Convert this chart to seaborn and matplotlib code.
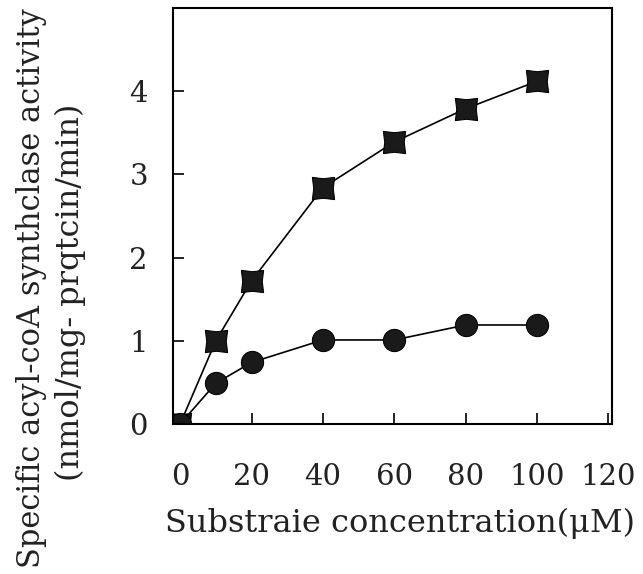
import numpy as np
import pandas as pd
import matplotlib
matplotlib.use("Agg")
import matplotlib.pyplot as plt
from matplotlib.path import Path
import seaborn as sns

# ---- data ----
concentration = [0, 10, 20, 40, 60, 80, 100]
activity_square = [0.0, 1.0, 1.72, 2.84, 3.39, 3.79, 4.12]
activity_circle = [0.0, 0.49, 0.74, 1.01, 1.01, 1.19, 1.19]
x_ticks = [0, 20, 40, 60, 80, 100, 120]
y_ticks = [0, 1, 2, 3, 4]
x_label = "Substraie concentration(\u03bcM)"
y_label_1 = "Specific acyl-coA synthclase activity"
y_label_2 = "(nmol/mg- prqtcin/min)"

df = pd.DataFrame({
    "conc": concentration * 2,
    "act": activity_square + activity_circle,
    "series": ["square"] * len(concentration) + ["circle"] * len(concentration),
})

sns.set_theme(style="white")
plt.rcParams["font.family"] = ["DejaVu Serif"]

# square with slightly concave sides
c = 0.88
verts = [(-1, -1), (0, -c), (1, -1), (c, 0), (1, 1), (0, c), (-1, 1), (-c, 0), (-1, -1)]
codes = [Path.MOVETO] + [Path.LINETO] * 7 + [Path.CLOSEPOLY]
sq_marker = Path(verts, codes)

fig = plt.figure(figsize=(6.43, 5.74), dpi=100)
ax = fig.add_axes([173 / 643, 1 - 424 / 574, (612 - 173) / 643, (424 - 8) / 574])

sns.lineplot(data=df, x="conc", y="act", style="series",
             markers={"square": sq_marker, "circle": "o"}, dashes=False,
             color="black", linewidth=1.2, markersize=16,
             markeredgecolor="black", markerfacecolor="#1a1a1a",
             legend=False, ax=ax, sort=False)

ax.set_xlim(-2, 121)
ax.set_ylim(0, 5)
ax.set_xticks(x_ticks)
ax.set_yticks(y_ticks)
ax.set_xticklabels([str(v) for v in x_ticks])
ax.set_yticklabels([str(v) for v in y_ticks])
ax.tick_params(axis="both", direction="in", length=8, width=1.2, color="black",
               labelsize=21, labelcolor="#222222")
ax.tick_params(axis="x", pad=28)
ax.tick_params(axis="y", pad=18)
ax.tick_params(left=True, bottom=True)
for s in ax.spines.values():
    s.set_visible(True)
    s.set_color("black")
    s.set_linewidth(1.5)
ax.set_xlabel("")
ax.set_ylabel("")

fig.text(400 / 643, 1 - 523 / 574, x_label, ha="center", va="center",
         fontsize=23, color="#222222")
fig.text(32 / 643, 1 - 288 / 574, y_label_1, ha="center", va="center",
         rotation=90, fontsize=22, color="#222222")
fig.text(70 / 643, 1 - 292 / 574, y_label_2, ha="center", va="center",
         rotation=90, fontsize=23, color="#222222")

fig.savefig("out.png", dpi=100)
